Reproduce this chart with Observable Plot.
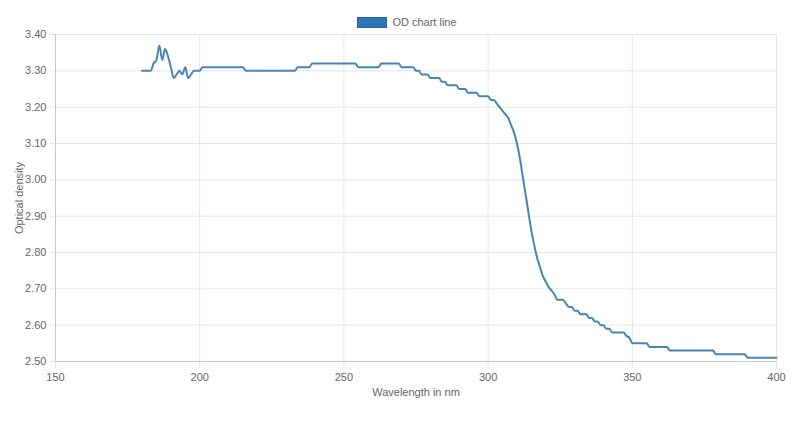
<!DOCTYPE html>
<html>
<head>
<meta charset="utf-8">
<script src="https://cdn.jsdelivr.net/npm/d3@7"></script>
<script src="https://cdn.jsdelivr.net/npm/@observablehq/plot@0.6"></script>
<style>
  html, body { margin: 0; padding: 0; background: #fff; }
  #wrap { position: relative; width: 800px; height: 425px; font-family: "Liberation Sans", Arial, Helvetica, sans-serif; }
  #legend { position: absolute; top: 16px; left: 4px; width: 800px; display: flex; justify-content: center; align-items: center; font-size: 11px; color: #666; }
  #legend .box { width: 28px; height: 9px; background: #2f75b5; border: 1px solid #27649c; margin-right: 5px; margin-left: 6px; }
</style>
</head>
<body>
<div id="wrap">
  <div id="legend"><span class="box"></span><span>OD chart line</span></div>
</div>
<script>
const seriesLabel = "OD chart line";
const wavelength = [
  180, 183, 184, 185, 186, 187, 188, 189, 190, 191, 192, 193, 194, 195, 196, 197, 198, 200, 201,
  215, 216, 233, 234, 238, 239, 254, 255, 262, 263, 269, 270, 274, 275, 276, 277, 279, 280, 283,
  284, 285, 286, 289, 290, 292, 293, 296, 297, 300, 301, 302, 303, 304, 305, 306, 307, 308, 309,
  310, 311, 312, 313, 314, 315, 316, 317, 318, 319, 320, 321, 322, 323, 324, 326, 327, 328, 329,
  330, 331, 332, 334, 335, 336, 337, 338, 339, 340, 341, 342, 343, 347, 348, 349, 350, 355, 356,
  362, 363, 378, 379, 389, 390, 400
];
const od = [
  3.30, 3.30, 3.32, 3.33, 3.37, 3.33, 3.36, 3.34, 3.31, 3.28, 3.29, 3.30, 3.29, 3.31, 3.28, 3.29, 3.30, 3.30, 3.31,
  3.31, 3.30, 3.30, 3.31, 3.31, 3.32, 3.32, 3.31, 3.31, 3.32, 3.32, 3.31, 3.31, 3.30, 3.30, 3.29, 3.29, 3.28, 3.28,
  3.27, 3.27, 3.26, 3.26, 3.25, 3.25, 3.24, 3.24, 3.23, 3.23, 3.22, 3.22, 3.21, 3.20, 3.19, 3.18, 3.17, 3.15, 3.13,
  3.10, 3.06, 3.01, 2.96, 2.91, 2.86, 2.82, 2.785, 2.76, 2.735, 2.72, 2.705, 2.695, 2.685, 2.67, 2.67, 2.66, 2.65, 2.65,
  2.64, 2.64, 2.63, 2.63, 2.62, 2.62, 2.61, 2.61, 2.60, 2.60, 2.59, 2.59, 2.58, 2.58, 2.57, 2.565, 2.55, 2.55, 2.54,
  2.54, 2.53, 2.53, 2.52, 2.52, 2.51, 2.51
];
const xTicks = [150, 200, 250, 300, 350, 400];
const yTicks = [2.5, 2.6, 2.7, 2.8, 2.9, 3.0, 3.1, 3.2, 3.3, 3.4];
const xLabel = "Wavelength in nm";
const yLabel = "Optical density";

const data = wavelength.map((w, i) => ({w, v: od[i]}));

const chart = Plot.plot({
  width: 800,
  height: 425,
  marginLeft: 55,
  marginRight: 24,
  marginTop: 34,
  marginBottom: 64,
  style: {fontFamily: "Liberation Sans, Arial, Helvetica, sans-serif", fontSize: "11px", color: "#666", background: "#fff"},
  x: {domain: [150, 400]},
  y: {domain: [2.5, 3.4]},
  marks: [
    Plot.gridX(xTicks, {stroke: "#e6e6e6", strokeOpacity: 1}),
    Plot.gridY(yTicks, {stroke: "#e6e6e6", strokeOpacity: 1}),
    Plot.axisX({ticks: xTicks, tickSize: 7, tickPadding: 5, stroke: "#e6e6e6", fill: "#666", label: xLabel, labelAnchor: "center", labelArrow: "none", labelOffset: 34, tickFormat: d => String(d)}),
    Plot.axisY({ticks: yTicks, tickSize: 5, tickPadding: 4, stroke: "#e6e6e6", fill: "#666", label: yLabel, labelAnchor: "center", labelArrow: "none", labelOffset: 40, tickFormat: d3.format(".2f")}),
    Plot.ruleX([150], {stroke: "#c8c8c8"}),
    Plot.ruleY([2.5], {stroke: "#c8c8c8"}),
    Plot.line(data, {x: "w", y: "v", stroke: "#4884b6", strokeWidth: 2, curve: "monotone-x", title: () => seriesLabel})
  ]
});
document.getElementById("wrap").prepend(chart);
</script>
</body>
</html>
